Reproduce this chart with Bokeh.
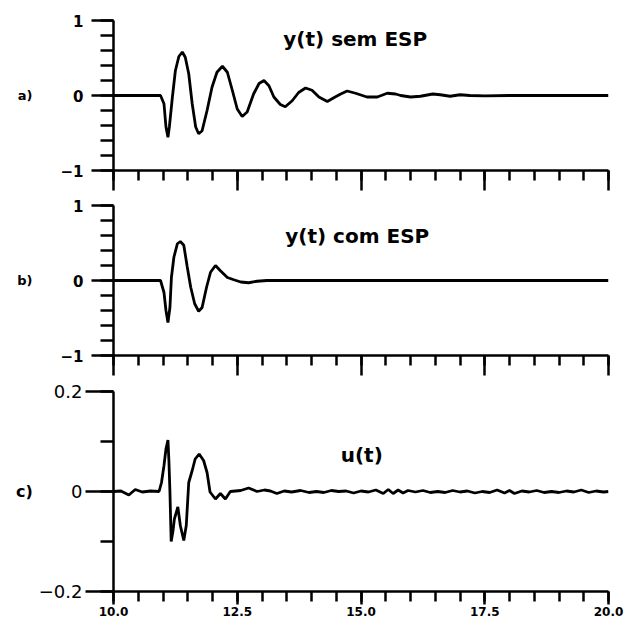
from bokeh.plotting import figure
from bokeh.layouts import column
from bokeh.models import FixedTicker, Label, Range1d
from bokeh.embed import file_html
from bokeh.resources import INLINE

# ---------------- data ----------------
t_a = [10.0, 10.95, 11.02, 11.06, 11.10, 11.13, 11.19, 11.25, 11.32, 11.39, 11.45, 11.52,
       11.59, 11.66, 11.72, 11.79, 11.89, 11.99, 12.09, 12.20, 12.30, 12.40, 12.50, 12.60,
       12.70, 12.83, 12.94, 13.04, 13.14, 13.24, 13.37, 13.47, 13.61, 13.74, 13.88, 14.01,
       14.15, 14.32, 14.45, 14.59, 14.72, 14.89, 15.12, 15.33, 15.53, 15.70, 15.80, 16.0,
       16.2, 16.45, 16.6, 16.8, 17.0, 17.2, 17.5, 18.0, 20.0]
y_a = [0.0, 0.0, -0.11, -0.42, -0.556, -0.41, -0.02, 0.33, 0.52, 0.58, 0.51, 0.29,
       -0.11, -0.42, -0.51, -0.47, -0.20, 0.11, 0.31, 0.39, 0.31, 0.07, -0.18, -0.28,
       -0.22, 0.02, 0.16, 0.20, 0.13, -0.02, -0.12, -0.15, -0.07, 0.04, 0.10, 0.07,
       -0.02, -0.08, -0.03, 0.02, 0.06, 0.03, -0.02, -0.02, 0.03, 0.02, 0.0, -0.02,
       -0.01, 0.02, 0.01, -0.01, 0.01, 0.0, -0.005, 0.0, 0.0]

t_b = [10.0, 10.95, 11.02, 11.06, 11.10, 11.14, 11.17, 11.22, 11.29, 11.35, 11.42, 11.49,
       11.56, 11.64, 11.72, 11.79, 11.88, 11.96, 12.06, 12.16, 12.30, 12.43, 12.57, 12.73,
       12.90, 13.1, 20.0]
y_b = [0.0, 0.0, -0.16, -0.40, -0.56, -0.36, 0.04, 0.31, 0.49, 0.52, 0.47, 0.18,
       -0.09, -0.31, -0.41, -0.36, -0.09, 0.11, 0.20, 0.13, 0.04, 0.01, -0.02, -0.03,
       -0.01, 0.0, 0.0]

t_c = [10.0, 10.15, 10.31, 10.44, 10.58, 10.75, 10.92, 10.97, 11.02, 11.06, 11.10, 11.12,
       11.14, 11.165, 11.20, 11.23, 11.30, 11.35, 11.42, 11.47, 11.52, 11.59, 11.65, 11.73,
       11.82, 11.89, 11.95, 12.06, 12.16, 12.26, 12.36, 12.57, 12.73, 12.90, 13.05, 13.17,
       13.30, 13.45, 13.60, 13.78, 13.95, 14.10, 14.25, 14.40, 14.55, 14.70, 14.85, 15.00,
       15.15, 15.30, 15.45, 15.55, 15.65, 15.75, 15.85, 15.95, 16.10, 16.25, 16.40, 16.55,
       16.70, 16.85, 17.00, 17.15, 17.30, 17.45, 17.60, 17.75, 17.90, 18.00, 18.10, 18.25,
       18.40, 18.55, 18.70, 18.85, 19.00, 19.15, 19.30, 19.45, 19.60, 19.75, 19.90, 20.0]
u_c = [0.0, 0.001, -0.007, 0.004, -0.001, 0.001, 0.0, 0.018, 0.052, 0.085, 0.103, 0.06,
       0.0, -0.10, -0.08, -0.055, -0.031, -0.068, -0.098, -0.068, 0.018, 0.042, 0.065, 0.075,
       0.062, 0.038, -0.001, -0.015, -0.004, -0.015, 0.0, 0.002, 0.007, 0.0, 0.003, 0.001,
       -0.004, 0.001, -0.001, 0.002, -0.002, 0.0, -0.002, 0.002, 0.0, 0.001, -0.003, 0.001,
       -0.001, 0.003, -0.004, 0.004, -0.004, 0.003, -0.003, 0.002, -0.001, 0.002, -0.002, 0.0,
       -0.002, 0.002, -0.001, 0.001, -0.003, 0.0, -0.002, 0.003, -0.003, 0.002, -0.004, 0.001,
       -0.001, 0.002, -0.002, 0.0, -0.002, 0.001, -0.001, 0.003, -0.002, 0.001, -0.001, 0.0]

x_major = [10.0, 12.5, 15.0, 17.5, 20.0]
x_minor = [10.0 + 0.5 * i for i in range(21)]
x_labels = {10.0: "10.0", 12.5: "12.5", 15.0: "15.0", 17.5: "17.5", 20.0: "20.0"}

y_major_ab = [-1, 0, 1]
y_minor_ab = [-1.0, -0.8, -0.6, -0.4, -0.2, 0.0, 0.2, 0.4, 0.6, 0.8, 1.0]
y_labels_ab = {-1: "\u22121", 0: "0", 1: "1"}

y_major_c = [-0.2, 0, 0.2]
y_minor_c = [-0.2, -0.1, 0.0, 0.1, 0.2]
y_labels_c = {-0.2: "\u22120.2", 0: "0", 0.2: "0.2"}

titles = ["y(t)  sem ESP", "y(t)  com ESP", "u(t)"]
panel_tags = ["a)", "b)", "c)"]

FONT = "DejaVu Sans"


def make_fig(height, top, bottom, yr, show_xlabels):
    p = figure(width=628, height=height, x_range=Range1d(10, 20), y_range=Range1d(*yr),
               output_backend="svg", toolbar_location=None,
               min_border_left=113, min_border_right=20,
               min_border_top=top, min_border_bottom=bottom)
    p.outline_line_color = None
    p.xgrid.visible = False
    p.ygrid.visible = False
    p.background_fill_color = "white"
    p.border_fill_color = "white"
    xa = p.xaxis[0]
    xa.ticker = FixedTicker(ticks=x_major, minor_ticks=x_minor)
    xa.axis_line_width = 2.5
    xa.major_tick_line_width = 2.5
    xa.minor_tick_line_width = 2.5
    xa.major_tick_in = 0
    xa.minor_tick_in = 0
    xa.minor_tick_out = 10
    xa.axis_line_color = "black"
    xa.major_tick_line_color = "black"
    xa.minor_tick_line_color = "black"
    if show_xlabels:
        xa.major_tick_out = 13
        xa.major_label_overrides = x_labels
        xa.major_label_text_font = FONT
        xa.major_label_text_font_style = "bold"
        xa.major_label_text_font_size = "12px"
        xa.major_label_text_color = "black"
        xa.major_label_standoff = 2
    else:
        xa.major_tick_out = 20
        xa.major_label_text_color = None
        xa.major_label_standoff = 0
    ya = p.yaxis[0]
    ya.axis_line_width = 2.5
    ya.major_tick_line_width = 2.5
    ya.minor_tick_line_width = 2.5
    ya.major_tick_in = 0
    ya.minor_tick_in = 0
    ya.minor_tick_out = 13
    ya.axis_line_color = "black"
    ya.major_tick_line_color = "black"
    ya.minor_tick_line_color = "black"
    ya.major_label_text_color = "black"
    ya.major_label_text_font = FONT
    ya.axis_label_orientation = "horizontal"
    ya.axis_label_text_font = FONT
    ya.axis_label_text_font_style = "bold"
    ya.axis_label_text_color = "black"
    return p


# panel a
pa = make_fig(195, 20, 25, (-1, 1), False)
ya = pa.yaxis[0]
ya.ticker = FixedTicker(ticks=y_major_ab, minor_ticks=y_minor_ab)
ya.major_label_overrides = y_labels_ab
ya.major_tick_out = 22
ya.major_label_standoff = 8
ya.major_label_text_font_style = "bold"
ya.major_label_text_font_size = "15px"
ya.axis_label = panel_tags[0]
ya.axis_label_text_font_size = "13px"
ya.axis_label_standoff = 25
pa.line(t_a, y_a, line_width=2.8, line_color="black")
pa.add_layout(Label(x=13.43, y=0.76, text=titles[0], text_font=FONT, text_font_style="bold",
                    text_font_size="20px", text_baseline="middle", text_color="black"))

# panel b
pb = make_fig(183, 10, 23, (-1, 1), False)
yb = pb.yaxis[0]
yb.ticker = FixedTicker(ticks=y_major_ab, minor_ticks=y_minor_ab)
yb.major_label_overrides = y_labels_ab
yb.major_tick_out = 22
yb.major_label_standoff = 8
yb.major_label_text_font_style = "bold"
yb.major_label_text_font_size = "15px"
yb.axis_label = panel_tags[1]
yb.axis_label_text_font_size = "13px"
yb.axis_label_standoff = 25
pb.line(t_b, y_b, line_width=2.8, line_color="black")
pb.add_layout(Label(x=13.47, y=0.59, text=titles[1], text_font=FONT, text_font_style="bold",
                    text_font_size="20px", text_baseline="middle", text_color="black"))

# panel c
pc = make_fig(247, 13, 34, (-0.2, 0.2), True)
yc = pc.yaxis[0]
yc.ticker = FixedTicker(ticks=y_major_c, minor_ticks=y_minor_c)
yc.major_label_overrides = y_labels_c
yc.major_tick_out = 28
yc.major_label_standoff = 3
yc.major_label_text_font_size = "18px"
yc.axis_label = panel_tags[2]
yc.axis_label_text_font_size = "16px"
yc.axis_label_standoff = 3
pc.line(t_c, u_c, line_width=2.8, line_color="black")
pc.add_layout(Label(x=14.59, y=0.074, text=titles[2], text_font=FONT, text_font_style="bold",
                    text_font_size="20px", text_baseline="middle", text_color="black"))

layout = column(pa, pb, pc, spacing=0)
open("out.html", "w").write(file_html(layout, INLINE))
